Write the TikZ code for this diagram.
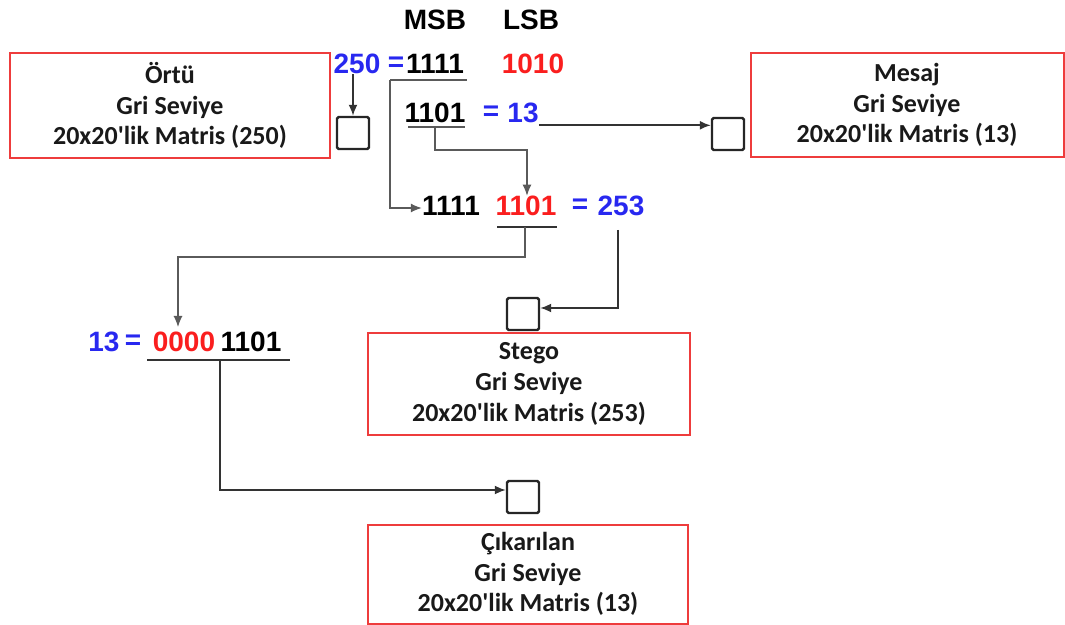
\documentclass[tikz,border=0pt]{standalone}
\usepackage{fontspec}
\setmainfont{Liberation Sans}
\newfontfamily\boxfont{Carlito}
\usetikzlibrary{arrows.meta}
\definecolor{bblue}{RGB}{40,40,240}
\definecolor{rred}{RGB}{250,30,30}
\definecolor{boxred}{RGB}{238,60,60}
\definecolor{lgray}{RGB}{90,90,90}
\begin{document}
\begin{tikzpicture}[x=0.5pt,y=-0.5pt,
  num/.style={font=\fontsize{14}{16}\selectfont\bfseries, inner sep=0pt},
  infobox/.style={draw=boxred, line width=1pt, align=center, inner sep=0pt,
    font=\boxfont\fontsize{13}{15.3}\selectfont\bfseries, text=black!90},
  sq/.style={draw=black!85, line width=1.2pt, minimum size=16pt, inner sep=0pt, rounded corners=0.8pt},
  thin/.style={draw=lgray, line width=0.6pt},
  thick/.style={draw=black!80, line width=0.9pt},
  tip/.style={-{Latex[length=5.5pt,width=4.5pt]}}
]
\useasboundingbox (0,0) rectangle (1065,625);

% boxes
\node[infobox, minimum width=160pt, minimum height=52.5pt] (ortu) at (170,105.5)
  {Örtü\\Gri Seviye\\20x20'lik Matris (250)};
\node[infobox, minimum width=156.5pt, minimum height=52pt] (mesaj) at (907,105)
  {Mesaj\\Gri Seviye\\20x20'lik Matris (13)};
\node[infobox, minimum width=161pt, minimum height=51pt] (stego) at (529,384)
  {Stego\\Gri Seviye\\20x20'lik Matris (253)};
\node[infobox, minimum width=160pt, minimum height=49.5pt] (cik) at (528,574)
  {Çıkarılan\\Gri Seviye\\20x20'lik Matris (13)};

% squares
\node[sq] (sq1) at (353,133) {};
\node[sq] (sq2) at (728,134) {};
\node[sq] (sq3) at (523,314) {};
\node[sq] (sq4) at (523,497) {};

% texts
\node[num] (msb) at (435,20) {MSB};
\node[num] (lsb) at (531,20) {LSB};
\node[num, text=bblue] (n250) at (357,64) {250};
\node[num, text=bblue] (eq1) at (396,64) {=};
\node[num] (a1111) at (435,64) {1111};
\node[num, text=rred] (l1010) at (533,64) {1010};
\node[num] (b1101) at (435,113) {1101};
\node[num, text=bblue] (eq2) at (491,113) {=};
\node[num, text=bblue] (n13a) at (523,113) {13};
\node[num] (c1111) at (451,206) {1111};
\node[num, text=rred] (c1101) at (526,206) {1101};
\node[num, text=bblue] (eq3) at (580,206) {=};
\node[num, text=bblue] (n253) at (621,206) {253};
\node[num, text=bblue] (n13b) at (104,342) {13};
\node[num, text=bblue] (eq4) at (133,342) {=};
\node[num, text=rred] (z0000) at (184,342) {0000};
\node[num] (d1101) at (251,342) {1101};

% helper coordinates
\coordinate (u1a) at (390,80);
\coordinate (u1b) at (467,80);
\coordinate (u1c) at (390,208);
\coordinate (u2a) at (408,127);
\coordinate (u2b) at (465,127);
\coordinate (u2m) at (435,127);
\coordinate (u2c) at (435,150);
\coordinate (u2d) at (527,150);
\coordinate (u3a) at (497,227);
\coordinate (u3b) at (557,227);
\coordinate (u3m) at (525,227);
\coordinate (u3c) at (525,257);
\coordinate (u3d) at (178,257);
\coordinate (u3e) at (178,327);
\coordinate (v253) at (618,230);
\coordinate (v253b) at (618,308);
\coordinate (u4a) at (147,360);
\coordinate (u4b) at (290,360);
\coordinate (u4m) at (220,360);
\coordinate (u4c) at (220,490);

% connectors
\draw[thick, tip] (n250.south -| sq1) -- (sq1.north);
\draw[thin] (u1a) -- (u1b);
\draw[thin, tip] (u1a) -- (u1c) -- (u1c -| c1111.west);
\draw[thin] (u2a) -- (u2b);
\draw[thin, tip] (u2m) -- (u2c) -- (u2d) -- (u2d |- c1101.north);
\draw[thick, tip] ([yshift=-1pt]n13a.south east) -- ([yshift=-1pt]n13a.south east -| sq2.west);
\draw[thick] (u3a) -- (u3b);
\draw[thin, tip] (u3m) -- (u3c) -- (u3d) -- (u3e);
\draw[thick, tip] (v253) -- (v253b) -- (v253b -| sq3.east);
\draw[thick] (u4a) -- (u4b);
\draw[thick, tip] (u4m) -- (u4c) -- (u4c -| sq4.west);
\end{tikzpicture}
\end{document}
